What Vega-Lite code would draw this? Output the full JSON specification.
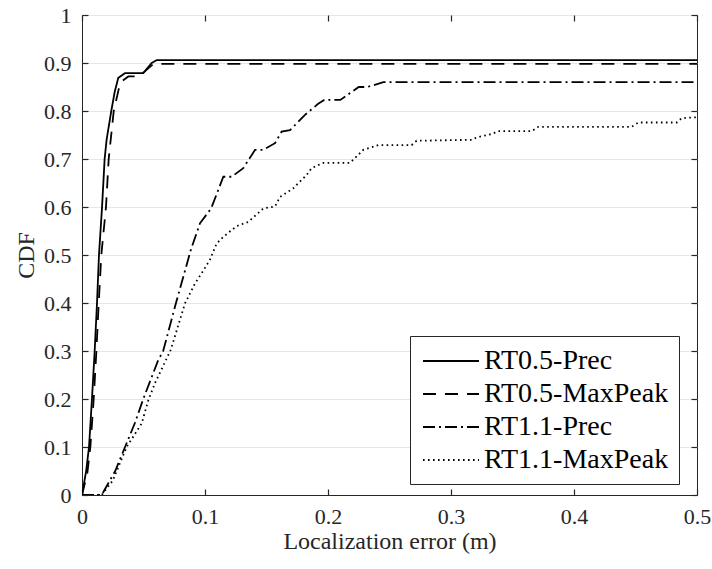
{
  "$schema": "https://vega.github.io/schema/vega-lite/v6.json",
  "width": 615,
  "height": 480,
  "padding": {"left": 82, "top": 15, "right": 15, "bottom": 74},
  "autosize": {"type": "none"},
  "background": "white",
  "config": {
    "font": "Liberation Serif",
    "view": {"stroke": "#262626", "strokeWidth": 1},
    "axis": {
      "labelFont": "Liberation Serif",
      "titleFont": "Liberation Serif",
      "labelFontSize": 22,
      "titleFontSize": 24,
      "labelColor": "#262626",
      "titleColor": "#262626",
      "titleFontWeight": "normal",
      "domainColor": "#262626",
      "tickColor": "#262626",
      "tickWidth": 1.2,
      "gridColor": "#e6e6e6",
      "gridWidth": 1.2,
      "labelFlush": false
    },
    "legend": {
      "labelFont": "Liberation Serif"
    }
  },
  "data": {
    "values": [
      {"series": "RT0.5-Prec", "x": 0, "y": 0},
      {"series": "RT0.5-Prec", "x": 0.0035, "y": 0.052},
      {"series": "RT0.5-Prec", "x": 0.0057, "y": 0.1},
      {"series": "RT0.5-Prec", "x": 0.0081, "y": 0.2},
      {"series": "RT0.5-Prec", "x": 0.0103, "y": 0.3},
      {"series": "RT0.5-Prec", "x": 0.0122, "y": 0.4},
      {"series": "RT0.5-Prec", "x": 0.0138, "y": 0.5},
      {"series": "RT0.5-Prec", "x": 0.0163, "y": 0.6},
      {"series": "RT0.5-Prec", "x": 0.0184, "y": 0.7},
      {"series": "RT0.5-Prec", "x": 0.02, "y": 0.74},
      {"series": "RT0.5-Prec", "x": 0.0238, "y": 0.8},
      {"series": "RT0.5-Prec", "x": 0.0266, "y": 0.84},
      {"series": "RT0.5-Prec", "x": 0.0295, "y": 0.869},
      {"series": "RT0.5-Prec", "x": 0.035, "y": 0.879},
      {"series": "RT0.5-Prec", "x": 0.0499, "y": 0.879},
      {"series": "RT0.5-Prec", "x": 0.0566, "y": 0.9},
      {"series": "RT0.5-Prec", "x": 0.0607, "y": 0.906},
      {"series": "RT0.5-Prec", "x": 0.5, "y": 0.906},

      {"series": "RT0.5-MaxPeak", "x": 0, "y": 0},
      {"series": "RT0.5-MaxPeak", "x": 0.0043, "y": 0.045},
      {"series": "RT0.5-MaxPeak", "x": 0.0068, "y": 0.1},
      {"series": "RT0.5-MaxPeak", "x": 0.0095, "y": 0.2},
      {"series": "RT0.5-MaxPeak", "x": 0.0117, "y": 0.3},
      {"series": "RT0.5-MaxPeak", "x": 0.0136, "y": 0.4},
      {"series": "RT0.5-MaxPeak", "x": 0.0157, "y": 0.5},
      {"series": "RT0.5-MaxPeak", "x": 0.0195, "y": 0.6},
      {"series": "RT0.5-MaxPeak", "x": 0.0217, "y": 0.7},
      {"series": "RT0.5-MaxPeak", "x": 0.0258, "y": 0.8},
      {"series": "RT0.5-MaxPeak", "x": 0.0298, "y": 0.845},
      {"series": "RT0.5-MaxPeak", "x": 0.0323, "y": 0.862},
      {"series": "RT0.5-MaxPeak", "x": 0.0377, "y": 0.872},
      {"series": "RT0.5-MaxPeak", "x": 0.0445, "y": 0.872},
      {"series": "RT0.5-MaxPeak", "x": 0.0499, "y": 0.88},
      {"series": "RT0.5-MaxPeak", "x": 0.058, "y": 0.898},
      {"series": "RT0.5-MaxPeak", "x": 0.5, "y": 0.898},

      {"series": "RT1.1-Prec", "x": 0, "y": 0},
      {"series": "RT1.1-Prec", "x": 0.016, "y": 0},
      {"series": "RT1.1-Prec", "x": 0.027, "y": 0.05},
      {"series": "RT1.1-Prec", "x": 0.035, "y": 0.1},
      {"series": "RT1.1-Prec", "x": 0.043, "y": 0.15},
      {"series": "RT1.1-Prec", "x": 0.0498, "y": 0.2},
      {"series": "RT1.1-Prec", "x": 0.0618, "y": 0.28},
      {"series": "RT1.1-Prec", "x": 0.066, "y": 0.3},
      {"series": "RT1.1-Prec", "x": 0.0764, "y": 0.4},
      {"series": "RT1.1-Prec", "x": 0.0884, "y": 0.51},
      {"series": "RT1.1-Prec", "x": 0.0959, "y": 0.566},
      {"series": "RT1.1-Prec", "x": 0.105, "y": 0.597},
      {"series": "RT1.1-Prec", "x": 0.1149, "y": 0.663},
      {"series": "RT1.1-Prec", "x": 0.1217, "y": 0.663},
      {"series": "RT1.1-Prec", "x": 0.1311, "y": 0.681},
      {"series": "RT1.1-Prec", "x": 0.1407, "y": 0.719},
      {"series": "RT1.1-Prec", "x": 0.1474, "y": 0.719},
      {"series": "RT1.1-Prec", "x": 0.1569, "y": 0.733},
      {"series": "RT1.1-Prec", "x": 0.1623, "y": 0.757},
      {"series": "RT1.1-Prec", "x": 0.1691, "y": 0.76},
      {"series": "RT1.1-Prec", "x": 0.1745, "y": 0.774},
      {"series": "RT1.1-Prec", "x": 0.1813, "y": 0.792},
      {"series": "RT1.1-Prec", "x": 0.192, "y": 0.815},
      {"series": "RT1.1-Prec", "x": 0.197, "y": 0.823},
      {"series": "RT1.1-Prec", "x": 0.21, "y": 0.823},
      {"series": "RT1.1-Prec", "x": 0.215, "y": 0.832},
      {"series": "RT1.1-Prec", "x": 0.225, "y": 0.85},
      {"series": "RT1.1-Prec", "x": 0.232, "y": 0.85},
      {"series": "RT1.1-Prec", "x": 0.245, "y": 0.86},
      {"series": "RT1.1-Prec", "x": 0.5, "y": 0.86},

      {"series": "RT1.1-MaxPeak", "x": 0, "y": 0},
      {"series": "RT1.1-MaxPeak", "x": 0.016, "y": 0},
      {"series": "RT1.1-MaxPeak", "x": 0.025, "y": 0.03},
      {"series": "RT1.1-MaxPeak", "x": 0.0363, "y": 0.1},
      {"series": "RT1.1-MaxPeak", "x": 0.0485, "y": 0.149},
      {"series": "RT1.1-MaxPeak", "x": 0.054, "y": 0.198},
      {"series": "RT1.1-MaxPeak", "x": 0.0593, "y": 0.233},
      {"series": "RT1.1-MaxPeak", "x": 0.0721, "y": 0.302},
      {"series": "RT1.1-MaxPeak", "x": 0.0837, "y": 0.399},
      {"series": "RT1.1-MaxPeak", "x": 0.0919, "y": 0.441},
      {"series": "RT1.1-MaxPeak", "x": 0.0973, "y": 0.462},
      {"series": "RT1.1-MaxPeak", "x": 0.104, "y": 0.49},
      {"series": "RT1.1-MaxPeak", "x": 0.1095, "y": 0.524},
      {"series": "RT1.1-MaxPeak", "x": 0.1149, "y": 0.538},
      {"series": "RT1.1-MaxPeak", "x": 0.1257, "y": 0.56},
      {"series": "RT1.1-MaxPeak", "x": 0.1352, "y": 0.569},
      {"series": "RT1.1-MaxPeak", "x": 0.1474, "y": 0.597},
      {"series": "RT1.1-MaxPeak", "x": 0.1569, "y": 0.601},
      {"series": "RT1.1-MaxPeak", "x": 0.161, "y": 0.621},
      {"series": "RT1.1-MaxPeak", "x": 0.1718, "y": 0.639},
      {"series": "RT1.1-MaxPeak", "x": 0.1827, "y": 0.667},
      {"series": "RT1.1-MaxPeak", "x": 0.1867, "y": 0.681},
      {"series": "RT1.1-MaxPeak", "x": 0.1962, "y": 0.692},
      {"series": "RT1.1-MaxPeak", "x": 0.2179, "y": 0.692},
      {"series": "RT1.1-MaxPeak", "x": 0.2287, "y": 0.719},
      {"series": "RT1.1-MaxPeak", "x": 0.2409, "y": 0.729},
      {"series": "RT1.1-MaxPeak", "x": 0.268, "y": 0.729},
      {"series": "RT1.1-MaxPeak", "x": 0.272, "y": 0.738},
      {"series": "RT1.1-MaxPeak", "x": 0.3168, "y": 0.74},
      {"series": "RT1.1-MaxPeak", "x": 0.3209, "y": 0.745},
      {"series": "RT1.1-MaxPeak", "x": 0.333, "y": 0.752},
      {"series": "RT1.1-MaxPeak", "x": 0.3385, "y": 0.758},
      {"series": "RT1.1-MaxPeak", "x": 0.3656, "y": 0.758},
      {"series": "RT1.1-MaxPeak", "x": 0.371, "y": 0.767},
      {"series": "RT1.1-MaxPeak", "x": 0.4469, "y": 0.767},
      {"series": "RT1.1-MaxPeak", "x": 0.4523, "y": 0.776},
      {"series": "RT1.1-MaxPeak", "x": 0.4835, "y": 0.776},
      {"series": "RT1.1-MaxPeak", "x": 0.4875, "y": 0.785},
      {"series": "RT1.1-MaxPeak", "x": 0.5, "y": 0.787}
    ]
  },
  "layer": [
    {
      "mark": {"type": "line", "strokeWidth": 1.8, "color": "black", "clip": true},
      "encoding": {
        "x": {
          "field": "x", "type": "quantitative",
          "scale": {"domain": [0, 0.5], "nice": false, "zero": false},
          "axis": {
            "title": "Localization error (m)",
            "values": [0, 0.1, 0.2, 0.3, 0.4, 0.5],
            "format": "~g",
            "grid": false,
            "labelFlush": false,
            "tickSize": -6,
            "labelPadding": 17,
            "titlePadding": 2
          }
        },
        "y": {
          "field": "y", "type": "quantitative",
          "scale": {"domain": [0, 1], "nice": false, "zero": false},
          "axis": {
            "title": "CDF",
            "values": [0, 0.1, 0.2, 0.3, 0.4, 0.5, 0.6, 0.7, 0.8, 0.9, 1],
            "format": "~g",
            "grid": true,
            "labelFlush": false,
            "tickSize": -6,
            "labelPadding": 17,
            "titlePadding": 5
          }
        },
        "strokeDash": {
          "field": "series", "type": "nominal",
          "scale": {
            "domain": ["RT0.5-Prec", "RT0.5-MaxPeak", "RT1.1-Prec", "RT1.1-MaxPeak"],
            "range": [[1, 0], [13, 9], [12, 4, 2, 4], [1.6, 3.4]]
          },
          "legend": {
            "title": null,
            "orient": "none",
            "legendX": 328,
            "legendY": 321,
            "fillColor": "white",
            "strokeColor": "#262626",
            "padding": 10,
            "rowPadding": 4,
            "labelFont": "Liberation Serif",
            "labelFontSize": 28,
            "labelLimit": 400,
            "labelColor": "black",
            "labelOffset": 18,
            "symbolOffset": 16,
            "symbolType": "M-2,0L2,0",
            "symbolSize": 784,
            "symbolStrokeWidth": 1.8,
            "symbolStrokeColor": "black",
            "symbolFillColor": "transparent"
          }
        }
      }
    },
    {
      "mark": {"type": "line", "opacity": 0},
      "encoding": {
        "x": {
          "field": "x", "type": "quantitative",
          "axis": {
            "orient": "top",
            "title": null,
            "labels": false,
            "domain": false,
            "grid": false,
            "values": [0, 0.1, 0.2, 0.3, 0.4, 0.5],
            "tickSize": -6
          }
        },
        "y": {
          "field": "y", "type": "quantitative",
          "axis": {
            "orient": "right",
            "title": null,
            "labels": false,
            "domain": false,
            "grid": false,
            "values": [0, 0.1, 0.2, 0.3, 0.4, 0.5, 0.6, 0.7, 0.8, 0.9, 1],
            "tickSize": -6
          }
        }
      }
    }
  ],
  "resolve": {"axis": {"x": "independent", "y": "independent"}}
}
